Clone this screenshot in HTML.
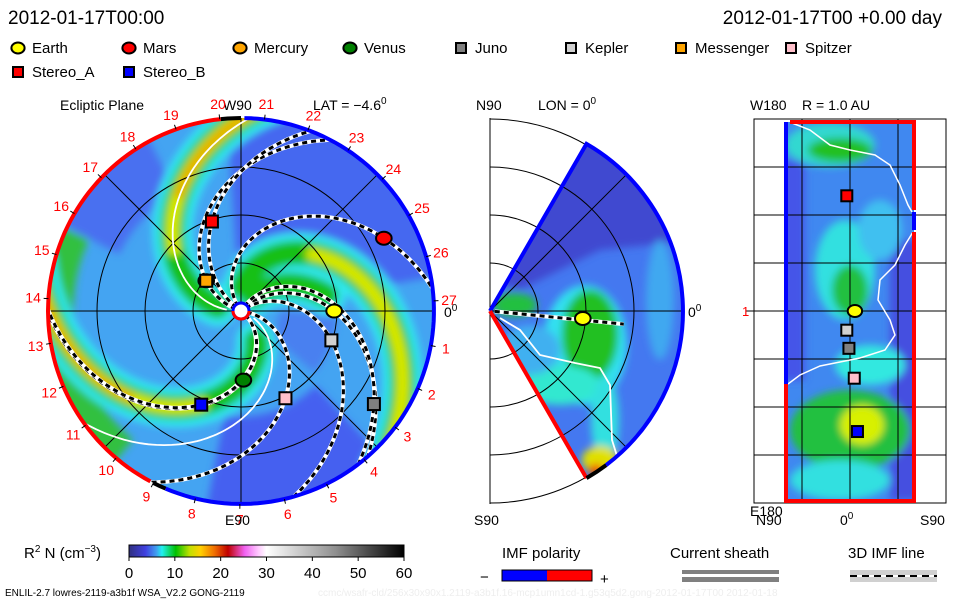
<!DOCTYPE html>
<html><head><meta charset="utf-8">
<style>
html,body{margin:0;padding:0;background:#fff;}
svg{display:block;font-family:"Liberation Sans",sans-serif;}
</style></head>
<body>
<svg id="chart" width="960" height="600" viewBox="0 0 960 600" xmlns="http://www.w3.org/2000/svg">
<defs>
<filter id="blur" x="-10%" y="-10%" width="120%" height="120%"><feGaussianBlur stdDeviation="4"/></filter>
<clipPath id="clipL"><circle cx="241" cy="311" r="193"/></clipPath>
<clipPath id="clipM"><path id="wedgeClip" d=""/></clipPath>
<clipPath id="clipR"><rect x="786" y="122" width="128" height="379"/></clipPath>
<linearGradient id="cbar" x1="0" x2="1" y1="0" y2="0">
<stop offset="0" stop-color="#303080"/><stop offset="0.06" stop-color="#4040e0"/><stop offset="0.1" stop-color="#40a0f0"/>
<stop offset="0.12" stop-color="#20f0f0"/><stop offset="0.17" stop-color="#00c000"/><stop offset="0.22" stop-color="#c0e000"/>
<stop offset="0.26" stop-color="#ffd000"/><stop offset="0.31" stop-color="#f07000"/><stop offset="0.36" stop-color="#c00000"/>
<stop offset="0.42" stop-color="#f060f0"/><stop offset="0.47" stop-color="#ffc8ff"/><stop offset="0.5" stop-color="#ffffff"/>
<stop offset="0.75" stop-color="#909090"/><stop offset="1" stop-color="#000000"/>
</linearGradient>
</defs>

<text x="8" y="24" font-size="19">2012-01-17T00:00</text>
<text x="942" y="24" font-size="19" text-anchor="end">2012-01-17T00 +0.00 day</text>

<g id="legend" font-size="15"></g>

<text x="60" y="110" font-size="14">Ecliptic Plane</text>
<text x="223" y="110" font-size="14">W90</text>
<text x="313" y="110" font-size="14">LAT = −4.6<tspan dy="-6" font-size="10">0</tspan></text>
<text x="476" y="110" font-size="14">N90</text>
<text x="538" y="110" font-size="14">LON = 0<tspan dy="-6" font-size="10">0</tspan></text>
<text x="750" y="110" font-size="14">W180</text>
<text x="802" y="110" font-size="14">R = 1.0 AU</text>

<g id="left"></g>
<g id="mid"></g>
<g id="right"></g>

<text x="225" y="525" font-size="14">E90</text>
<text x="444" y="317" font-size="14">0<tspan dy="-6" font-size="10">0</tspan></text>
<text x="474" y="525" font-size="14">S90</text>
<text x="688" y="317" font-size="14">0<tspan dy="-6" font-size="10">0</tspan></text>
<text x="750" y="516" font-size="14">E180</text>
<text x="756" y="525" font-size="14">N90</text>
<text x="840" y="525" font-size="14">0<tspan dy="-6" font-size="10">0</tspan></text>
<text x="920" y="525" font-size="14">S90</text>
<text x="742" y="316" font-size="13" fill="#ff0000">1</text>

<text x="24" y="558" font-size="15">R<tspan dy="-6" font-size="10">2</tspan><tspan dy="6"> N (cm</tspan><tspan dy="-6" font-size="10">−3</tspan><tspan dy="6">)</tspan></text>
<rect x="129" y="545" width="275" height="12" fill="url(#cbar)" stroke="#000" stroke-width="1"/>
<g id="cbticks" font-size="15"></g>
<text x="5" y="596" font-size="10">ENLIL-2.7 lowres-2119-a3b1f WSA_V2.2 GONG-2119</text>
<text x="318" y="596" font-size="10" fill="#eeeeee">ccmc/wsafr-cld/256x30x90x1.2119-a3b1f.16-mcp1umn1cd-1.g53q5d2.gong-2012-01-17T00   2012-01-18</text>

<text x="502" y="558" font-size="15">IMF polarity</text>
<text x="480" y="582" font-size="15">−</text>
<rect x="502" y="570" width="45" height="11" fill="#0000ff"/>
<rect x="547" y="570" width="45" height="11" fill="#ff0000"/>
<rect x="502" y="570" width="90" height="11" fill="none" stroke="#000"/>
<text x="600" y="584" font-size="15">+</text>
<text x="670" y="558" font-size="15">Current sheath</text>
<rect x="682" y="570" width="97" height="4" fill="#808080"/>
<rect x="682" y="577" width="97" height="5" fill="#808080"/>
<text x="848" y="558" font-size="15">3D IMF line</text>
<rect x="850" y="570" width="87" height="12" fill="#d0d0d0"/>
<line x1="850" y1="576" x2="937" y2="576" stroke="#fff" stroke-width="2"/>
<line x1="850" y1="576" x2="937" y2="576" stroke="#000" stroke-width="2" stroke-dasharray="7,5"/>
</svg>
<script>
// ---- data ----
const objNames  = ["Earth","Mars","Mercury","Venus","Juno","Kepler","Messenger","Spitzer","Stereo_A","Stereo_B"];
const objColors = ["#ffff00","#ff0000","#ffa500","#008000","#808080","#d0d0d0","#ffa500","#ffc0cb","#ff0000","#0000ff"];
const objShapes = ["circle","circle","circle","circle","square","square","square","square","square","square"];
const objLon    = [0, 27, 139, -88, -35, -18, 139, -63, 108, -113];   // deg
const objRad    = [0.97, 1.67, 0.48, 0.72, 1.69, 0.99, 0.48, 1.02, 0.98, 1.06]; // AU
const objLat    = [-4.6, 0, 0, 0, 1, 3, 0, -4, 3, -7];                 // deg
const objWind   = [47, 60, 50, 71, 55, 55, 50, 55, 38, 71];            // spiral winding deg/AU
const objInR    = [true,false,false,false,true,true,false,true,true,true];
const dayLabels = [1,2,3,4,5,6,7,8,9,10,11,12,13,14,15,16,17,18,19,20,21,22,23,24,25,26,27];
const cbTicks   = [0,10,20,30,40,50,60];

const NS="http://www.w3.org/2000/svg";
function mk(tag, parent, attrs){const e=document.createElementNS(NS,tag);for(const k in attrs)e.setAttribute(k,attrs[k]);parent.appendChild(e);return e;}
const AU=96, LCX=241, LCY=311, MCX=490, MCY=311, RCX=850, RCY=311;
const rad=d=>d*Math.PI/180;
function lx(r,d){return LCX+r*AU*Math.cos(rad(d));}
function ly(r,d){return LCY-r*AU*Math.sin(rad(d));}
function mx(r,lat){return MCX+r*AU*Math.cos(rad(lat));}
function my(r,lat){return MCY-r*AU*Math.sin(rad(lat));}
function rxp(lat){return RCX-lat*96/90;}
function ryp(lon){return RCY-lon*384/360;}
function spiral(phi0,s,r0,r1){let p=[];for(let r=r0;r<=r1+1e-6;r+=0.02){p.push(lx(r,phi0-s*r).toFixed(1)+","+ly(r,phi0-s*r).toFixed(1));}return p.join(" ");}
function marker(parent,shape,color,x,y,sz){
  if(shape==="circle") return mk("ellipse",parent,{cx:x,cy:y,rx:sz*0.6,ry:sz*0.5,fill:color,stroke:"#000","stroke-width":2});
  return mk("rect",parent,{x:x-sz/2,y:y-sz/2,width:sz,height:sz,fill:color,stroke:"#000","stroke-width":2});
}

// ---- legend ----
const legend=document.getElementById("legend");
const legX=[18,129,240,350,461,571,681,791,18,129];
const legY=[48,48,48,48,48,48,48,48,72,72];
objNames.forEach((n,i)=>{
  const g=mk("g",legend,{});
  
  
  const m=marker(g,objShapes[i],objColors[i],legX[i],legY[i],objShapes[i]==="circle"?11:10);
  
  
  const t=mk("text",g,{x:legX[i]+14,y:legY[i]+5});
  t.textContent=n;
  
  
});

// ---- left panel ----
const L=document.getElementById("left");
const lbg=mk("g",L,{"clip-path":"url(#clipL)"});


mk("circle",lbg,{cx:LCX,cy:LCY,r:193,fill:"#44a4f2"});
const lb=mk("g",lbg,{filter:"url(#blur)"});
function sector(g,a0,a1,r0,r1,fill){let p=[];for(let a=a0;a<=a1;a+=3)p.push([lx(r1,a),ly(r1,a)]);for(let a=a1;a>=a0;a-=3)p.push([lx(r0,a),ly(r0,a)]);return mk("polygon",g,{points:p.map(q=>q.join(",")).join(" "),fill:fill});}
sector(lb,10,95,0.6,2.3,"#4468f0");
sector(lb,-100,-45,1.1,2.3,"#4460f0");
sector(lb,118,155,1.4,2.3,"#4870f0");
sector(lb,-40,0,0.4,1.0,"#4a80f0");
sector(lb,155,230,1.75,2.3,"#30c040");
const arms=[[180,45,0.25,2.2,true],[322,71,0.35,2.2,true],[105,70,0.25,2.2,false],[60,55,0.2,0.9,false]];
arms.forEach(a=>{
  mk("polyline",lb,{points:spiral(a[0],a[1],a[2],a[3]),fill:"none",stroke:"#30e8f0","stroke-width":40,"stroke-linecap":"round"});
});
arms.forEach(a=>{
  mk("polyline",lb,{points:spiral(a[0],a[1],a[2],a[3]),fill:"none",stroke:"#18c018","stroke-width":24,"stroke-linecap":"round"});
});
arms.forEach((a,i)=>{
  if(i<3) mk("polyline",lb,{points:spiral(a[0],a[1],a[2]+0.7,a[3]),fill:"none",stroke:"#d8e800","stroke-width":13,"stroke-linecap":"round"});
  if(a[4]) mk("polyline",lb,{points:spiral(a[0],a[1],a[2]+1.1,a[3]),fill:"none",stroke:"#f0a000","stroke-width":7});
});
// grid
const lg=mk("g",L,{stroke:"#000","stroke-width":1,fill:"none"});


[0.5,1,1.5].forEach(r=>mk("circle",lg,{cx:LCX,cy:LCY,r:r*AU}));
[0,45,90,135].forEach(d=>mk("line",lg,{x1:lx(2.01,d),y1:ly(2.01,d),x2:lx(2.01,d+180),y2:ly(2.01,d+180)}));
// current sheath (white)
const cs=mk("g",L,{"clip-path":"url(#clipL)",fill:"none",stroke:"#fff","stroke-width":1.8});


mk("polyline",cs,{points:spiral(182,47,0.15,2.1)});
mk("polyline",cs,{points:spiral(318,68,0.15,2.1)});
mk("polyline",cs,{points:spiral(340,62,0.15,2.1)});
// IMF lines through objects
const fl=mk("g",L,{"clip-path":"url(#clipL)",fill:"none"});


objNames.forEach((n,i)=>{
  if(n==="Messenger")return;
  const s=objWind[i], phi0=objLon[i]+s*objRad[i];
  const pts=spiral(phi0,s,0.06,2.05);
  const w=mk("polyline",fl,{points:pts,stroke:"#fff","stroke-width":4});
  
  
  const d=mk("polyline",fl,{points:pts,stroke:"#000","stroke-width":3,"stroke-dasharray":"5,4"});
  
  
});
// boundary
function arcPath(r,a0,a1){let p=[];for(let a=a0;a<=a1+0.01;a+=2)p.push(lx(r,a).toFixed(1)+","+ly(r,a).toFixed(1));return p.join(" ");}
const bb=mk("polyline",L,{points:arcPath(2.01,-113,90),fill:"none",stroke:"#0000ff","stroke-width":4});


const br=mk("polyline",L,{points:arcPath(2.01,96,243),fill:"none",stroke:"#ff0000","stroke-width":4});


mk("polyline",L,{points:arcPath(2.01,90,96),fill:"none",stroke:"#000","stroke-width":4});
mk("polyline",L,{points:arcPath(2.01,243,248),fill:"none",stroke:"#000","stroke-width":4});
// sun
const sun=mk("circle",L,{cx:LCX,cy:LCY,r:8,fill:"#fff",stroke:"#0000ff","stroke-width":3});


mk("path",L,{d:`M${LCX-8},${LCY} A8,8 0 0,0 ${LCX+8},${LCY}`,fill:"none",stroke:"#ff0000","stroke-width":3});
// day labels
const dl=mk("g",L,{fill:"#ff0000","font-size":14,"text-anchor":"middle"});


dayLabels.forEach(k=>{
  const a=3+(27-k)*13.333;
  const t=mk("text",dl,{x:lx(2.17,a).toFixed(1),y:(ly(2.17,a)+5).toFixed(1)});
  t.textContent=k;
  
  
  mk("line",L,{x1:lx(2.01,a),y1:ly(2.01,a),x2:lx(2.06,a),y2:ly(2.06,a),stroke:"#000","stroke-width":1});
});
// objects
objNames.forEach((n,i)=>{
  const m=marker(L,objShapes[i],objColors[i],lx(objRad[i],objLon[i]),ly(objRad[i],objLon[i]),objShapes[i]==="circle"?13:12);
  
  
});

// ---- middle panel ----
const M=document.getElementById("mid");
const wt=[mx(2.01,60),my(2.01,60)], wb=[mx(2.01,-60),my(2.01,-60)];
document.getElementById("wedgeClip").setAttribute("d",`M${MCX},${MCY} L${wt[0]},${wt[1]} A${2.01*AU},${2.01*AU} 0 0,1 ${wb[0]},${wb[1]} Z`);
const mg=mk("g",M,{"clip-path":"url(#clipM)"});


mk("rect",mg,{x:480,y:120,width:220,height:390,fill:"#4478f0"});
const mb=mk("g",mg,{filter:"url(#blur)"});
mk("polygon",mb,{points:`${MCX},${MCY-30} ${wt[0]},${wt[1]-20} 700,150 700,240 600,250 520,290`,fill:"#4048d0"});
mk("ellipse",mb,{cx:585,cy:345,rx:42,ry:60,fill:"#30e0f0"});
mk("ellipse",mb,{cx:590,cy:335,rx:28,ry:45,fill:"#20c020"});
mk("ellipse",mb,{cx:560,cy:385,rx:40,ry:20,fill:"#30e8d0"});
mk("ellipse",mb,{cx:605,cy:420,rx:14,ry:45,fill:"#30e0e0"});
mk("ellipse",mb,{cx:600,cy:460,rx:18,ry:14,fill:"#e0e000"});
mk("ellipse",mb,{cx:596,cy:470,rx:8,ry:6,fill:"#f05000"});
mk("ellipse",mb,{cx:515,cy:305,rx:22,ry:12,fill:"#20c040"});
mk("ellipse",mb,{cx:660,cy:300,rx:14,ry:60,fill:"#40a8f0"});
mk("ellipse",mb,{cx:530,cy:350,rx:30,ry:25,fill:"#40b0f0"});
const mgr=mk("g",M,{stroke:"#000","stroke-width":1,fill:"none"});


[0.5,1,1.5,2].forEach(r=>mk("path",mgr,{d:`M${MCX},${MCY-r*AU} A${r*AU},${r*AU} 0 0,1 ${MCX},${MCY+r*AU}`}));
mk("line",mgr,{x1:MCX,y1:MCY-2.01*AU,x2:MCX,y2:MCY+2.01*AU});
mk("line",mgr,{x1:MCX,y1:MCY,x2:mx(2.01,0),y2:MCY});
mk("line",mgr,{x1:MCX,y1:MCY,x2:mx(2.01,45),y2:my(2.01,45)});
mk("line",mgr,{x1:MCX,y1:MCY,x2:mx(2.01,-45),y2:my(2.01,-45)});
const mcs=mk("polyline",M,{points:"500,318 520,330 540,355 575,363 600,368 610,385 612,440 617,456",fill:"none",stroke:"#fff","stroke-width":1.8});


const mEarthLine=`${mx(0.05,objLat[0])},${my(0.05,objLat[0])} ${mx(1.4,objLat[0]-1)},${my(1.4,objLat[0]-1)}`;
mk("polyline",M,{points:mEarthLine,stroke:"#fff","stroke-width":4,fill:"none"});
const mel=mk("polyline",M,{points:mEarthLine,stroke:"#000","stroke-width":3,"stroke-dasharray":"5,4",fill:"none"});


const wtop=mk("path",M,{d:`M${MCX},${MCY} L${wt[0]},${wt[1]} A${2.01*AU},${2.01*AU} 0 0,1 ${mx(2.01,-53)},${my(2.01,-53)}`,fill:"none",stroke:"#0000ff","stroke-width":4});


const wbot=mk("path",M,{d:`M${MCX},${MCY} L${wb[0]},${wb[1]}`,fill:"none",stroke:"#ff0000","stroke-width":4});


mk("path",M,{d:`M${wb[0]},${wb[1]} A${2.01*AU},${2.01*AU} 0 0,0 ${mx(2.01,-53)},${my(2.01,-53)}`,fill:"none",stroke:"#000","stroke-width":4});
objNames.forEach((n,i)=>{
  if(n!=="Earth")return;
  const m=marker(M,objShapes[i],objColors[i],mx(objRad[i],objLat[i]),my(objRad[i],objLat[i]),13);
  
  
});

// ---- right panel ----
const R=document.getElementById("right");
const rg=mk("g",R,{"clip-path":"url(#clipR)"});


mk("rect",rg,{x:786,y:122,width:128,height:379,fill:"#4088f0"});
const rb=mk("g",rg,{filter:"url(#blur)"});
mk("rect",rb,{x:775,y:160,width:30,height:220,fill:"#4454e8"});
mk("rect",rb,{x:890,y:240,width:30,height:260,fill:"#4450e0"});
mk("ellipse",rb,{cx:830,cy:145,rx:45,ry:22,fill:"#30d8d0"});
mk("ellipse",rb,{cx:840,cy:150,rx:32,ry:12,fill:"#20c020"});
mk("ellipse",rb,{cx:845,cy:270,rx:30,ry:50,fill:"#30e0e0"});
mk("ellipse",rb,{cx:850,cy:290,rx:18,ry:25,fill:"#20c040"});
mk("ellipse",rb,{cx:870,cy:365,rx:35,ry:20,fill:"#30e8e0"});
mk("ellipse",rb,{cx:850,cy:430,rx:60,ry:40,fill:"#20c040"});
mk("ellipse",rb,{cx:862,cy:425,rx:22,ry:20,fill:"#d8f000"});
mk("ellipse",rb,{cx:840,cy:480,rx:50,ry:20,fill:"#30e0e0"});
mk("ellipse",rb,{cx:880,cy:230,rx:22,ry:30,fill:"#40c0f0"});
const rgr=mk("g",R,{stroke:"#000","stroke-width":1,fill:"none"});


mk("rect",rgr,{x:rxp(90),y:ryp(180),width:rxp(-90)-rxp(90),height:ryp(-180)-ryp(180)});
[45,0,-45].forEach(l=>mk("line",rgr,{x1:rxp(l),y1:ryp(180),x2:rxp(l),y2:ryp(-180)}));
[135,90,45,0,-45,-90,-135].forEach(l=>mk("line",rgr,{x1:rxp(90),y1:ryp(l),x2:rxp(-90),y2:ryp(l)}));
mk("line",rgr,{x1:rxp(90)-8,y1:ryp(0),x2:rxp(90),y2:ryp(0)});
const rcs=mk("polyline",R,{points:"792,123 810,130 830,145 850,150 875,155 890,165 900,185 908,205 912,212",fill:"none",stroke:"#fff","stroke-width":1.5});


const rcs2=mk("polyline",R,{points:"913,232 905,245 895,265 880,280 878,300 890,320 895,335 885,350 860,358 840,362 820,366 800,375 788,384",fill:"none",stroke:"#fff","stroke-width":1.5});


const rbl=mk("polyline",R,{points:"786,122 786,384",fill:"none",stroke:"#0000ff","stroke-width":4});


const rbr=mk("polyline",R,{points:"786,384 786,501 914,501 914,232 914,232",fill:"none",stroke:"#ff0000","stroke-width":4});


mk("polyline",R,{points:"790,122 914,122 914,210",fill:"none",stroke:"#ff0000","stroke-width":4});
mk("polyline",R,{points:"914,212 914,230",fill:"none",stroke:"#0000ff","stroke-width":4});
objNames.forEach((n,i)=>{
  if(!objInR[i])return;
  const m=marker(R,objShapes[i],objColors[i],rxp(objLat[i]),ryp(objLon[i]),objShapes[i]==="circle"?12:11);
  
  
});

// ---- colorbar ticks ----
const cbt=document.getElementById("cbticks");
cbTicks.forEach(v=>{
  const x=129+v/60*275;
  mk("line",cbt,{x1:x,y1:557,x2:x,y2:561,stroke:"#000"});
  const t=mk("text",cbt,{x:x,y:578,"text-anchor":"middle"});
  t.textContent=v;
  
  
});
</script>
</body></html>
